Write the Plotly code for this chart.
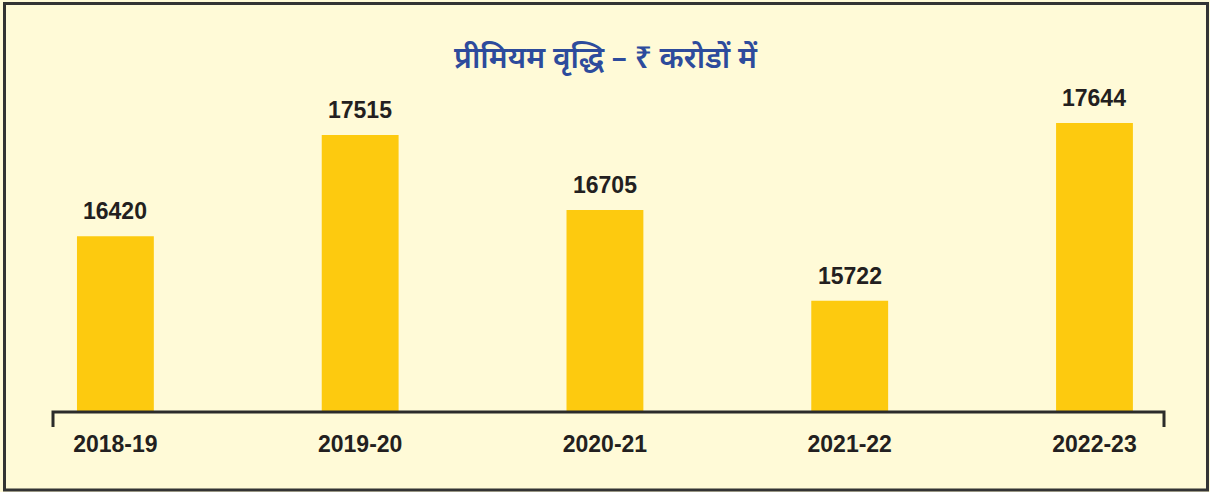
import plotly.graph_objects as go

years = ["2018-19", "2019-20", "2020-21", "2021-22", "2022-23"]
premium = [16420, 17515, 16705, 15722, 17644]
title_text = "प्रीमियम वृद्धि – ₹ करोडों में"

W, H = 1210, 492
L, R, T, B = 52, 46, 60, 80
pw, ph = W - L - R, H - T - B

def px(x):
    return (x - L) / pw

def py(y):
    return (H - B - y) / ph

BG = "#FFFAD7"
BAR = "#FDCA0F"
INK = "#231F20"
BLUE = "#2D4B9C"
NUM_FONT = "Liberation Sans Narrow, Liberation Sans, Arial, sans-serif"

fig = go.Figure(go.Bar(
    x=years, y=premium, marker=dict(color=BAR, line=dict(width=0)),
    hoverinfo="x+y",
))

for yr, v in zip(years, premium):
    fig.add_annotation(x=yr, y=v, text=f"<b>{v}</b>", showarrow=False,
                       yanchor="bottom", yshift=10,
                       font=dict(family=NUM_FONT, size=23, color=INK))

fig.update_layout(
    width=W, height=H,
    margin=dict(l=L, r=R, t=T, b=B),
    paper_bgcolor=BG, plot_bgcolor=BG,
    bargap=0.686,
    showlegend=False,
    title=dict(text=title_text, x=px(605.5), xref="paper", xanchor="center",
               y=1 - 57 / H, yanchor="middle",
               font=dict(family="Noto Sans, sans-serif", size=30, color=BLUE, weight=600)),
    xaxis=dict(range=[-0.259, 4.284], showgrid=False, zeroline=False, showline=False,
               ticks="", tickfont=dict(family=NUM_FONT, size=23, color=INK, weight="bold"),
               ticklabelstandoff=16, fixedrange=True),
    yaxis=dict(range=[14520, 14520 + ph / 0.0925], visible=False, showgrid=False,
               zeroline=False, fixedrange=True),
    shapes=[
        dict(type="rect", xref="paper", yref="paper",
             x0=px(4.5), x1=px(1207.5), y0=py(490), y1=py(3.5),
             line=dict(color="#333333", width=3), layer="above"),
        dict(type="path", xref="paper", yref="paper",
             path=f"M {px(53)},{py(427)} L {px(53)},{py(412)} L {px(1164)},{py(412)} L {px(1164)},{py(427)}",
             line=dict(color="#2B2B2B", width=3), layer="above"),
    ],
)

fig.write_html("out.html", config={"displayModeBar": False},
               post_script="document.body.style.margin='0';")
